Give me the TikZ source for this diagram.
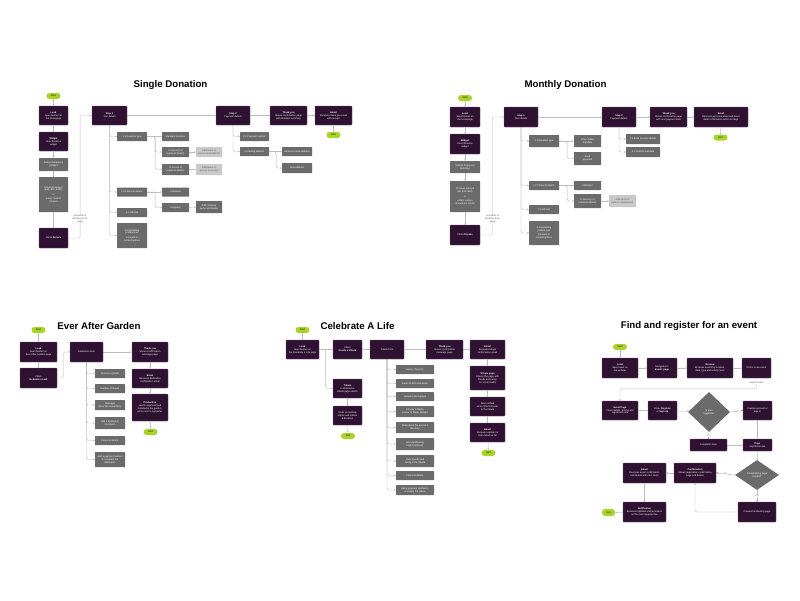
\documentclass[tikz,border=0pt]{standalone}
\usepackage{fontspec}
\setmainfont{Liberation Sans}
\usetikzlibrary{arrows.meta,shapes.geometric}
\definecolor{plum}{HTML}{2F1232}
\definecolor{plumedge}{HTML}{6A4C6C}
\definecolor{boxgray}{HTML}{6B6B6B}
\definecolor{palegray}{HTML}{C9C9C9}
\definecolor{palefont}{HTML}{555555}
\definecolor{lime}{HTML}{A8D42A}
\definecolor{linegray}{HTML}{BDBDBD}
\definecolor{nored}{HTML}{E0524A}
\definecolor{yesgreen}{HTML}{4BAE6A}
\newcommand\boxfont{\fontsize{2.4}{2.9}\selectfont}
\newcommand\ttlfont{\bfseries\fontsize{9.7}{11}\selectfont}
\tikzset{
  sz/.style 2 args={minimum width=#1,minimum height=#2},
  pbox/.style={fill=plum,draw=plumedge,line width=0.25pt,text=white,rounded corners=0.7pt,inner sep=0.4pt,align=center,font=\boxfont},
  gbox/.style={fill=boxgray,text=white,rounded corners=0.5pt,inner sep=0.4pt,align=center,font=\boxfont},
  lbox/.style={fill=palegray,text=palefont,rounded corners=0.5pt,inner sep=0.4pt,align=center,font=\boxfont},
  pill/.style={fill=lime,text=black,rounded corners=3pt,inner sep=0pt,minimum width=14,minimum height=6,font=\boxfont},
  dia/.style={diamond,fill=boxgray,text=white,inner sep=0pt,align=center,font=\boxfont},
  ttl/.style={font=\ttlfont,inner sep=0pt},
  note/.style={fill=white,text=palefont,align=center,inner sep=0.4pt,font=\boxfont},
  flow/.style={draw=linegray,line width=0.45pt,rounded corners=1.5pt,-{Stealth[length=1.6pt,width=1.6pt]}},
  nolbl/.style={fill=white,text=nored,inner sep=0.4pt,font=\boxfont},
  yeslbl/.style={fill=white,text=yesgreen,inner sep=0.4pt,font=\boxfont}
}
\begin{document}
\begin{tikzpicture}[x=1pt,y=-1pt]
\useasboundingbox[fill=white] (0,0) rectangle (800,600);

% single donation
\node[ttl] (sdTitle) at (170.5,85) {Single Donation};
\node[pill] (sdStart) at (53.5,96) {Start};
\node[pbox,sz={29}{19}] (sdLead) at (53.5,115.5) {\textbf{Lead}\\Sees banner on\\the homepage};
\node[pbox,sz={29}{19}] (sdWidget) at (53.5,141.5) {\textbf{Widget}\\Uses donation\\widget};
\node[gbox,sz={29}{13}] (sdFreq) at (53.5,164.5) {Selects frequency\\(Single)};
\node[gbox,sz={29}{35}] (sdAmount) at (53.5,194.5) {Chooses amount\\(\$25, \$50, \$100)\\[1.5pt]or\\[1.5pt]enters custom\\amount};
\node[pbox,sz={29}{20}] (sdDonate) at (53.5,238) {Clicks \textbf{Donate}};
\node[pbox,sz={35}{19}] (sdS1) at (109.5,115.5) {\textbf{Step 1}\\Your details};
\node[gbox,sz={30}{9}] (sdB1) at (132,136.5) {1.1 Donation type};
\node[gbox,sz={30}{9}] (sdB2) at (132,192) {1.2 Personal details};
\node[gbox,sz={30}{9}] (sdB3) at (132,212.5) {1.3 Gift Aid};
\node[gbox,sz={30}{25}] (sdB4) at (132,235.5) {1.4 Marketing\\preferences\\[1.5pt]Consent to\\contact options};
\node[gbox,sz={27}{9}] (sdC1) at (175.5,136.5) {Standard donation};
\node[gbox,sz={27}{10}] (sdC2) at (175.5,152) {In memory of\\(optional details)};
\node[gbox,sz={27}{11}] (sdC3) at (175.5,169.5) {In honour of\\(optional details)};
\node[lbox,sz={26}{10}] (sdD2) at (209,152) {Add name of\\person remembered};
\node[lbox,sz={26}{11}] (sdD3) at (209,169.5) {Add name of\\person honoured};
\node[gbox,sz={27}{9}] (sdE1) at (175.5,192) {Individual};
\node[gbox,sz={27}{9}] (sdE2) at (175.5,207.5) {Company};
\node[gbox,sz={26}{12}] (sdF2) at (209,207) {Add company\\name and details};
\node[pbox,sz={34}{19}] (sdS2) at (233,115.5) {\textbf{Step 2}\\Payment details};
\node[gbox,sz={29}{9}] (sdG1) at (254.5,136.5) {2.1 Payment method};
\node[gbox,sz={29}{9}] (sdG2) at (254.5,151.5) {2.2 Billing address};
\node[gbox,sz={30}{9}] (sdH1) at (297,151.5) {Same as home address};
\node[gbox,sz={30}{10}] (sdH2) at (297,168) {New address};
\node[pbox,sz={37}{19}] (sdThanks) at (288.5,115.5) {\textbf{Thank you}\\Shows confirmation page\\with donation summary};
\node[pbox,sz={37}{19}] (sdEmail) at (333.5,115.5) {\textbf{Email}\\Receives thank you email\\with receipt};
\node[pill] (sdEnd) at (333.5,135) {End};
\draw[flow] (sdStart) -- (sdLead);
\draw[flow] (sdLead) -- (sdWidget);
\draw[flow] (sdWidget) -- (sdFreq);
\draw[flow] (sdFreq) -- (sdAmount);
\draw[flow] (sdAmount) -- (sdDonate);
\draw[flow] (sdDonate.east) -- ++(12,0) |- (sdS1.west);
\node[note] (sdNote) at (80,219) {proceeds to\\donation form\\page};
\draw[flow] (sdS1) -- (sdS2);
\draw[flow] (sdS2) -- (sdThanks);
\draw[flow] (sdThanks) -- (sdEmail);
\draw[flow] (sdEmail) -- (sdEnd);
\foreach \b in {sdB1,sdB2,sdB3,sdB4}
  \draw[flow] (sdS1.south) |- (\b.west);
\draw[flow] (sdB1) -- (sdC1);
\draw[flow] (sdB1.east) -- ++(8,0) |- (sdC2.west);
\draw[flow] (sdB1.east) -- ++(8,0) |- (sdC3.west);
\draw[flow] (sdC2) -- (sdD2);
\draw[flow] (sdC3) -- (sdD3);
\draw[flow] (sdB2) -- (sdE1);
\draw[flow] (sdB2.east) -- ++(8,0) |- (sdE2.west);
\draw[flow] (sdE2) -- (sdF2);
\draw[flow] (sdS2.south) |- (sdG1.west);
\draw[flow] (sdS2.south) |- (sdG2.west);
\draw[flow] (sdG2) -- (sdH1);
\draw[flow] (sdG2.east) -- ++(7,0) |- (sdH2.west);

% monthly donation
\node[ttl] (mdTitle) at (565.5,85) {Monthly Donation};
\node[pill] (mdStart) at (465,98) {Start};
\node[pbox,sz={30}{20}] (mdLead) at (465,117) {\textbf{Lead}\\Sees banner on\\the homepage};
\node[pbox,sz={30}{20}] (mdWidget) at (465,144) {\textbf{Widget}\\Uses donation\\widget};
\node[gbox,sz={30}{12}] (mdFreq) at (465,167) {Selects frequency\\(Monthly)};
\node[gbox,sz={30}{31}] (mdAmount) at (465,196.5) {Chooses amount\\(\$5, \$10, \$20)\\[1.5pt]or\\[1.5pt]enters custom\\amount per month};
\node[pbox,sz={30}{20}] (mdDonate) at (465,235) {Clicks \textbf{Donate}};
\node[pbox,sz={34}{20}] (mdS1) at (521,117) {\textbf{Step 1}\\Your details};
\node[gbox,sz={30}{12}] (mdB1) at (544,141) {1.1 Donation type};
\node[gbox,sz={30}{9}] (mdB2) at (544,185.5) {1.2 Personal details};
\node[gbox,sz={30}{9}] (mdB3) at (544,209.5) {1.3 Gift Aid};
\node[gbox,sz={30}{24}] (mdB4) at (544,233) {1.4 Marketing\\preferences\\[1.5pt]Consent to\\contact options};
\node[gbox,sz={27}{12}] (mdC1) at (587.5,141) {Direct Debit\\mandate};
\node[gbox,sz={27}{13}] (mdC2) at (587.5,158.5) {Card\\payment};
\node[gbox,sz={27}{9}] (mdE1) at (587.5,185.5) {Individual};
\node[gbox,sz={27}{14}] (mdE2) at (587.5,201) {In memory of\\(optional details)};
\node[lbox,sz={27}{12}] (mdF2) at (622.5,201) {Add name of\\person remembered};
\node[pbox,sz={34}{20}] (mdS2) at (619,117) {\textbf{Step 2}\\Payment details};
\node[gbox,sz={34}{10}] (mdG1) at (643,139) {2.1 Bank account details};
\node[gbox,sz={34}{10}] (mdG2) at (643,152) {2.2 Confirm mandate};
\node[pbox,sz={37}{20}] (mdThanks) at (668.5,117) {\textbf{Thank you}\\Shows confirmation page\\with next payment date};
\node[pbox,sz={54}{20}] (mdEmail) at (721,117) {\textbf{Email}\\Receives welcome email and direct\\debit confirmation within 10 days};
\node[pill] (mdEnd) at (720.5,137.5) {End};
\draw[flow] (mdStart) -- (mdLead);
\draw[flow] (mdLead) -- (mdWidget);
\draw[flow] (mdWidget) -- (mdFreq);
\draw[flow] (mdFreq) -- (mdAmount);
\draw[flow] (mdAmount) -- (mdDonate);
\draw[flow] (mdDonate.east) -- ++(12,0) |- (mdS1.west);
\node[note] (mdNote) at (492.5,219) {proceeds to\\donation form\\page};
\draw[flow] (mdS1) -- (mdS2);
\draw[flow] (mdS2) -- (mdThanks);
\draw[flow] (mdThanks) -- (mdEmail);
\draw[flow] (mdEmail) -- (mdEnd);
\foreach \b in {mdB1,mdB2,mdB3,mdB4}
  \draw[flow] (mdS1.south) |- (\b.west);
\draw[flow] (mdB1) -- (mdC1);
\draw[flow] (mdB1.east) -- ++(8,0) |- (mdC2.west);
\draw[flow] (mdB2) -- (mdE1);
\draw[flow] (mdB2.east) -- ++(8,0) |- (mdE2.west);
\draw[flow] (mdE2) -- (mdF2);
\draw[flow] (mdS2.south) |- (mdG1.west);
\draw[flow] (mdS2.south) |- (mdG2.west);

% ever after garden
\node[ttl] (eaTitle) at (99,326) {Ever After Garden};
\node[pill] (eaStart) at (38.5,330) {Start};
\node[pbox,sz={37}{20}] (eaLead) at (38.5,352) {\textbf{Lead}\\Sees banner on\\Ever After Garden page};
\node[pbox,sz={37}{20}] (eaEnter) at (38.5,378) {Clicks\\\textbf{Dedicate a Leaf}};
\node[pbox,sz={33}{20}] (eaCat) at (86.5,352) {Dedication form};
\node[gbox,sz={30}{9}] (eaB1) at (110,373.5) {Choose a garden};
\node[gbox,sz={30}{9}] (eaB2) at (110,388.5) {Number of leaves};
\node[gbox,sz={30}{10}] (eaB3) at (110,405) {Message\\(max 120 characters)};
\node[gbox,sz={30}{12}] (eaB4) at (110,423) {Add a dedication\\inscription};
\node[gbox,sz={30}{9}] (eaB5) at (110,440.5) {Personal details};
\node[gbox,sz={30}{15}] (eaB6) at (110,459.5) {Add a payment method\\to complete the\\dedication};
\node[pbox,sz={36}{20}] (eaThanks) at (150,352) {\textbf{Thank you}\\Shows confirmation\\message page};
\node[pbox,sz={36}{19}] (eaEmail) at (150,378.5) {\textbf{Email}\\Receives dedication\\confirmation email};
\node[pbox,sz={36}{27}] (eaProd) at (150,407.5) {\textbf{Production}\\Leaf is engraved and\\installed in the garden,\\photo sent to supporter};
\node[pill] (eaEnd) at (150.5,432) {End};
\draw[flow] (eaStart) -- (eaLead);
\draw[flow] (eaLead) -- (eaEnter);
\draw[flow] (eaEnter.east) -- ++(6,0) |- (eaCat.west);
\draw[flow] (eaCat) -- (eaThanks);
\draw[flow] (eaThanks) -- (eaEmail);
\draw[flow] (eaEmail) -- (eaProd);
\draw[flow] (eaProd) -- (eaEnd);
\foreach \b in {eaB1,eaB2,eaB3,eaB4,eaB5,eaB6}
  \draw[flow] (eaCat.south) |- (\b.west);

% celebrate a life
\node[ttl] (clTitle) at (357.5,326) {Celebrate A Life};
\node[pill] (clStart) at (302.5,330) {Start};
\node[pbox,sz={33}{19}] (clLead) at (302.5,349.5) {\textbf{Lead}\\Sees banner on\\the Celebrate A Life page};
\node[pbox,sz={29}{19}] (clEnter) at (347.5,349.5) {Clicks\\\textbf{Create a tribute}};
\node[pbox,sz={29}{19}] (clTribute) at (347.5,388.5) {\textbf{Tribute}\\Is directed to\\tribute page search};
\node[pbox,sz={29}{19}] (clNext) at (347.5,415.5) {Finds an existing\\tribute and makes\\a donation};
\node[pill] (clEnd) at (348,436) {End};
\node[pbox,sz={34}{19}] (clCat) at (387,349.5) {Tribute form};
\node[gbox,sz={38}{9}] (clB1) at (415,369.5) {Name of person};
\node[gbox,sz={38}{9}] (clB2) at (415,383.5) {Dates of birth and death};
\node[gbox,sz={38}{9}] (clB3) at (415,396.5) {Upload a photograph};
\node[gbox,sz={38}{11}] (clB4) at (415,411.5) {Choose a theme\\(colour or flower design)};
\node[gbox,sz={38}{11}] (clB5) at (415,427.5) {Write about the person's\\life story};
\node[gbox,sz={38}{12}] (clB6) at (415,444) {Set a fundraising\\target (optional)};
\node[gbox,sz={38}{12}] (clB7) at (415,461) {Invite friends and\\family to the tribute};
\node[gbox,sz={38}{9}] (clB8) at (415,475.5) {Personal details};
\node[gbox,sz={38}{10}] (clB9) at (415,490) {Add a payment method to\\complete the tribute};
\node[pbox,sz={37}{19}] (clThanks) at (444.5,349.5) {\textbf{Thank you}\\Shows confirmation\\message page};
\node[pbox,sz={35}{19}] (clEmail) at (487.5,349.5) {\textbf{Email}\\Receives tribute\\confirmation email};
\node[pbox,sz={35}{24}] (clR1) at (487.5,378) {\textbf{Tribute page}\\Shares the page with\\friends and family\\on social media};
\node[pbox,sz={35}{19}] (clR2) at (487.5,406.5) {Gets notified\\when others donate\\to the tribute};
\node[pbox,sz={35}{19}] (clR3) at (487.5,432.5) {\textbf{Email}\\Receives update on\\total raised so far};
\node[pill] (clEnd2) at (488.5,453) {End};
\draw[flow] (clStart) -- (clLead);
\draw[flow] (clLead) -- (clEnter);
\draw[flow] (clLead.east) -- ++(6.5,0) |- (clTribute.west);
\draw[flow] (clTribute) -- (clNext);
\draw[flow] (clNext) -- (clEnd);
\draw[flow] (clEnter) -- (clCat);
\draw[flow] (clCat) -- (clThanks);
\draw[flow] (clThanks) -- (clEmail);
\draw[flow] (clEmail) -- (clR1);
\draw[flow] (clR1) -- (clR2);
\draw[flow] (clR2) -- (clR3);
\draw[flow] (clR3) -- (clEnd2);
\foreach \b in {clB1,clB2,clB3,clB4,clB5,clB6,clB7,clB8,clB9}
  \draw[flow] (clCat.south) |- (\b.west);

% find and register for an event
\node[ttl] (evTitle) at (689,326) {Find and register for an event};
\node[pill] (evStart) at (620,347) {Start};
\node[pbox,sz={36}{20}] (evLead) at (620,368) {\textbf{Lead}\\Sees event on\\the website};
\node[pbox,sz={30}{20}] (evNav) at (662,368) {Navigates to\\\textbf{Events page}};
\node[pbox,sz={46}{20}] (evBrowse) at (710,368) {\textbf{Browse}\\Browses events by location,\\date, type and activity level};
\node[pbox,sz={29}{20}] (evClick) at (756.5,368) {Clicks on an event};
\node[note] (evMore) at (756.5,382.5) {selects event};
\node[pbox,sz={36}{19}] (evPage) at (620,410.5) {\textbf{Event Page}\\Views details, pricing and\\registration info};
\node[pbox,sz={29}{19}] (evReg) at (662.5,410.5) {Clicks \textbf{Register}\\or \textbf{Sign Up}};
\node[dia,minimum width=42,minimum height=40] (evDia1) at (709,412) {Is user\\logged in?};
\node[pbox,sz={29}{19}] (evSign) at (757.5,410.5) {Creates account or\\logs in};
\node[pbox,sz={37}{12}] (evPurch) at (708.5,445) {Completes form};
\node[pbox,sz={29}{12}] (evPay) at (757.5,445) {\textbf{Pays}\\registration fee};
\node[dia,minimum width=44,minimum height=30] (evDia2) at (757,475) {Is fundraising page\\needed?};
\node[pbox,sz={42}{20}] (evConf) at (695,473) {\textbf{Confirmation}\\Shows registration confirmation\\page and details};
\node[pbox,sz={43}{20}] (evEmail) at (644.5,473) {\textbf{Email}\\Receives event confirmation\\and details with next steps};
\node[pbox,sz={38}{20}] (evFund) at (757,512) {Creates fundraising page};
\node[pbox,sz={43}{20}] (evNotif) at (644.5,512) {\textbf{Notification}\\Receives updates and reminders\\as the event approaches};
\node[pill,minimum width=13,minimum height=7] (evEnd) at (608.5,512.5) {End};
\draw[flow] (evStart) -- (evLead);
\draw[flow] (evLead) -- (evNav);
\draw[flow] (evNav) -- (evBrowse);
\draw[flow] (evBrowse) -- (evClick);
\draw[flow] (evMore.south) |- ([yshift=12]evPage.north) -- (evPage.north);
\draw[flow] (evPage) -- (evReg);
\draw[flow] (evReg) -- (evDia1);
\draw[flow,-{Stealth[length=1.6pt,width=1.6pt,color=nored]}] (evDia1.east) -- node[nolbl] {No} (evSign.west);
\draw[flow,-{Stealth[length=1.6pt,width=1.6pt,color=yesgreen]}] (evDia1.south) -- node[yeslbl] {Yes} (evPurch.north);
\draw[flow] (evSign) -- (evPay);
\draw[flow] (evPurch) -- (evPay);
\draw[flow] (evPay) -- (evDia2);
\draw[flow,-{Stealth[length=1.6pt,width=1.6pt,color=nored]}] (evDia2.west) -- node[nolbl] {No} (evConf.east);
\draw[flow,-{Stealth[length=1.6pt,width=1.6pt,color=yesgreen]}] (evDia2.south) -- node[yeslbl] {Yes} (evFund.north);
\draw[flow] (evFund.west) -| (evConf.south);
\draw[flow] (evConf) -- (evEmail);
\draw[flow] (evEmail) -- (evNotif);
\draw[flow] (evNotif) -- (evEnd);
\end{tikzpicture}
\end{document}
